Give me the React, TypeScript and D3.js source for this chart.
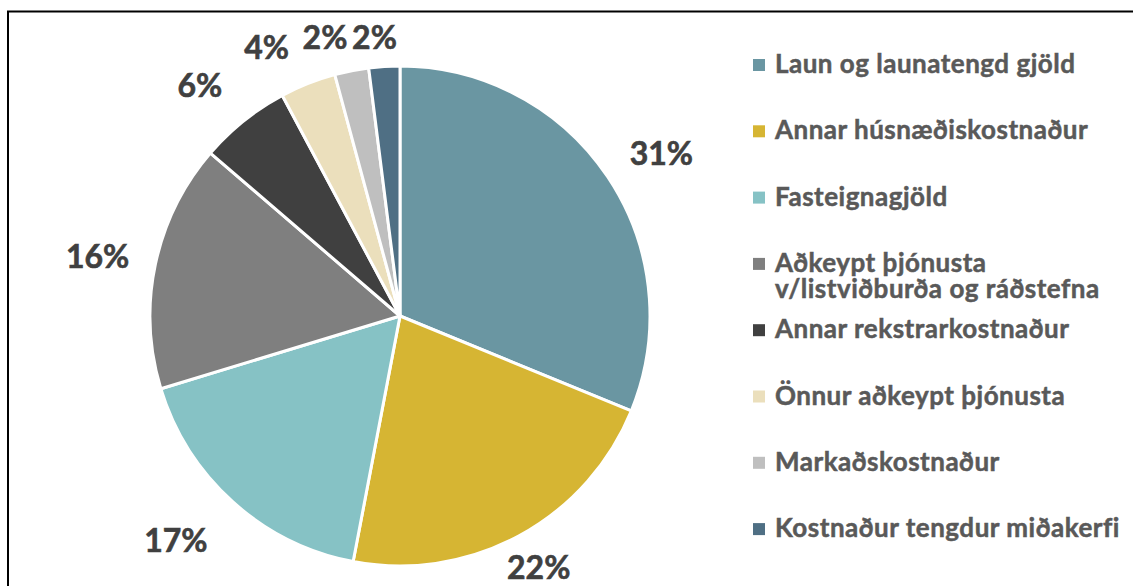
import React from "react";
import * as d3 from "d3";

const categories = [
  "Laun og launatengd gjöld",
  "Annar húsnæðiskostnaður",
  "Fasteignagjöld",
  "Aðkeypt þjónusta v/listviðburða og ráðstefna",
  "Annar rekstrarkostnaður",
  "Önnur aðkeypt þjónusta",
  "Markaðskostnaður",
  "Kostnaður tengdur miðakerfi",
];
const values = [31.2, 21.8, 17.3, 16.0, 5.9, 3.6, 2.2, 2.0];
const legendLines = [
  ["Laun og launatengd gjöld"],
  ["Annar húsnæðiskostnaður"],
  ["Fasteignagjöld"],
  ["Aðkeypt þjónusta", "v/listviðburða og ráðstefna"],
  ["Annar rekstrarkostnaður"],
  ["Önnur aðkeypt þjónusta"],
  ["Markaðskostnaður"],
  ["Kostnaður tengdur miðakerfi"],
];
const colors = [
  "#6A96A2",
  "#D6B533",
  "#86C2C5",
  "#7F7F7F",
  "#404040",
  "#EBDFBC",
  "#BFBFBF",
  "#4F6F84",
];
// label nudges (layout, px) to mimic overlap-avoidance placement
const labelNudge: [number, number][] = [
  [9, -3],
  [-6, -1],
  [-21, 11],
  [-5, 0],
  [-16, -7],
  [-25, -2],
  [-18, 3],
  [-7, 8],
];

export default function App() {
  const W = 1133;
  const H = 586;
  const cx = 400;
  const cy = 316;
  const r = 250;
  const data = categories.map((c, i) => ({ c, v: values[i], i }));
  const pie = d3
    .pie<any>()
    .sort(null)
    .value((d) => d.v)
    .startAngle(0)
    .endAngle(2 * Math.PI);
  const arcs = pie(data);
  const arc = d3.arc<any>().innerRadius(0).outerRadius(r);
  const fmt = (v: number) => `${Math.round(v)}%`;
  const labelFont = 32;
  const boxH = 30;
  const d = 22;

  const legendX = 753;
  const legendY0 = 65;
  const legendStep = 66.3;

  return (
    <svg
      width={W}
      height={H}
      style={{ position: "absolute", left: 0, top: 0, background: "#fff" }}
    >
      <rect x={8} y={11.5} width={3000} height={3000} fill="none" stroke="#000" strokeWidth={2} />
      <g transform={`translate(${cx},${cy})`}>
        {arcs.map((a, i) => (
          <path key={i} d={arc(a) as string} fill={colors[i]} stroke="#fff" strokeWidth={3} strokeLinejoin="round" />
        ))}
        {arcs.map((a, i) => {
          const mid = (a.startAngle + a.endAngle) / 2;
          const s = Math.sin(mid);
          const c = Math.cos(mid);
          const txt = fmt(a.data.v);
          const w = (txt.length - 1) * 0.58 * labelFont + 0.83 * labelFont;
          const px = (r + d) * s + (s * w) / 2 + labelNudge[i][0];
          const py = -(r + d) * c - (c * boxH) / 2 + labelNudge[i][1];
          return (
            <text
              key={i}
              x={px}
              y={py}
              dy="0.36em"
              textAnchor="middle"
              fontFamily="Lato, 'Open Sans', sans-serif"
              fontWeight={700}
              fontSize={labelFont}
              fill="#404040"
              stroke="#404040"
              strokeWidth={0.6}
            >
              {txt}
            </text>
          );
        })}
      </g>
      <g>
        {legendLines.map((lines, i) => {
          const y = legendY0 + i * legendStep;
          return (
            <g key={i}>
              <rect x={legendX} y={y - 6} width={12} height={12} fill={colors[i]} />
              <text
                x={legendX + 22}
                y={y + 8}
                fontFamily="Lato, 'Open Sans', sans-serif"
                fontWeight={700}
                fontSize={26}
                letterSpacing={0.5}
                fill="#595959"
                stroke="#595959"
                strokeWidth={0.5}
              >
                {lines.map((ln, j) => (
                  <tspan key={j} x={legendX + 22} dy={j === 0 ? 0 : 26.5}>
                    {ln}
                  </tspan>
                ))}
              </text>
            </g>
          );
        })}
      </g>
    </svg>
  );
}
